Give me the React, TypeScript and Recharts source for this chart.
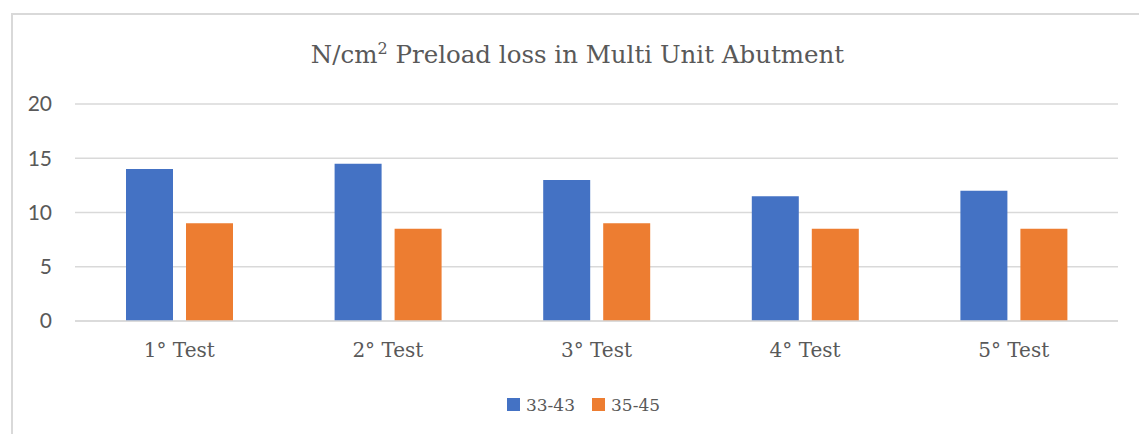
import React from 'react'
import { BarChart, Bar, XAxis, YAxis, CartesianGrid, Legend } from 'recharts'

const categories = ['1° Test', '2° Test', '3° Test', '4° Test', '5° Test']
const series3343 = [14, 14.5, 13, 11.5, 12]
const series3545 = [9, 8.5, 9, 8.5, 8.5]
const yTicks = [0, 5, 10, 15, 20]

const seriesInfo = [
  { key: 's1', name: '33-43', color: '#4472C4' },
  { key: 's2', name: '35-45', color: '#ED7D31' },
]

const data = categories.map((c, i) => ({ name: c, s1: series3343[i], s2: series3545[i] }))

const serif = '"DejaVu Serif", "Liberation Serif", serif'
const sans = 'Lato, "Open Sans", sans-serif'

const renderLegend = () => (
  <div
    style={{
      display: 'flex',
      justifyContent: 'center',
      gap: 17,
      paddingLeft: 34,
      fontFamily: serif,
      fontSize: 17,
      color: '#595959',
      height: 23,
    }}
  >
    {seriesInfo.map((s) => (
      <div key={s.key} style={{ display: 'flex', alignItems: 'center' }}>
        <span style={{ display: 'inline-block', width: 13, height: 13, background: s.color, marginRight: 6 }} />
        <span>{s.name}</span>
      </div>
    ))}
  </div>
)

export default function App() {
  return (
    <div style={{ position: 'absolute', left: 0, top: 0, width: 1139, height: 434, overflow: 'hidden', background: '#fff' }}>
      <div
        style={{
          position: 'absolute',
          left: 11,
          top: 13,
          width: 1200,
          height: 500,
          border: '2px solid #d9d9d9',
          boxSizing: 'border-box',
        }}
      />
      <div
        style={{
          position: 'absolute',
          left: 0,
          top: 40,
          width: 1155,
          textAlign: 'center',
          fontFamily: serif,
          fontSize: 24.5,
          color: '#595959',
          whiteSpace: 'nowrap',
        }}
      >
        N/cm<sup style={{ fontSize: 16, verticalAlign: 'baseline', position: 'relative', top: -9 }}>2</sup> Preload loss in Multi Unit Abutment
      </div>
      <div style={{ position: 'absolute', left: 0, top: 0 }}>
        <BarChart
          width={1139}
          height={434}
          data={data}
          margin={{ top: 104, right: 21, left: 15, bottom: 50 }}
          barSize={47}
          barGap={13}
        >
          <CartesianGrid vertical={false} stroke="#d9d9d9" strokeWidth={1.5} />
          <XAxis
            dataKey="name"
            height={40}
            axisLine={{ stroke: '#d9d9d9', strokeWidth: 1.5 }}
            tickLine={false}
            tickSize={0}
            tickMargin={22}
            tick={{ fill: '#595959', fontFamily: serif, fontSize: 20 }}
          />
          <YAxis
            width={60}
            domain={[0, 20]}
            ticks={yTicks}
            axisLine={false}
            tickLine={false}
            tickSize={0}
            tickMargin={23}
            tick={{ fill: '#595959', fontFamily: sans, fontSize: 21 }}
          />
          <Legend verticalAlign="bottom" align="center" content={renderLegend} wrapperStyle={{ bottom: 18 }} />
          {seriesInfo.map((s) => (
            <Bar key={s.key} dataKey={s.key} name={s.name} fill={s.color} isAnimationActive={false} />
          ))}
        </BarChart>
      </div>
    </div>
  )
}
